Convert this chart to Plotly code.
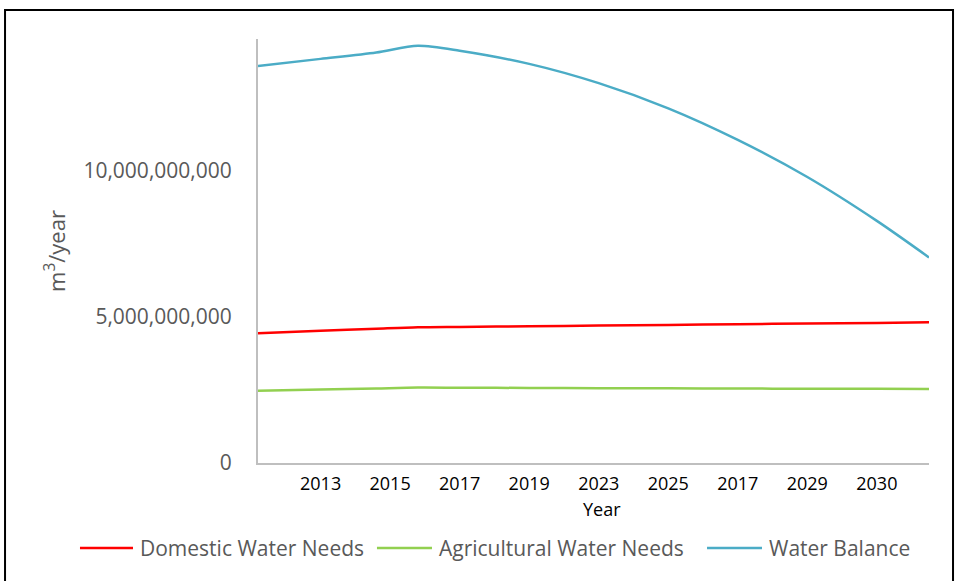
import plotly.graph_objects as go

# Year labels shown under the axis (as printed on the original report chart)
tick_labels = ["2013", "2015", "2017", "2019", "2023", "2025", "2017", "2029", "2030"]
tick_pos = list(range(1, len(tick_labels) + 1))

# Sample positions along the year axis (1 = first labelled year)
x_pts = [0.1, 1, 1.8, 2.4, 3, 4, 5, 6, 7, 8, 9, 9.75]

# Volumes in m3/year
domestic = [4.44e9, 4.52e9, 4.59e9, 4.64e9, 4.654e9, 4.677e9, 4.70e9,
            4.723e9, 4.746e9, 4.77e9, 4.79e9, 4.81e9]
agricultural = [2.47e9, 2.51e9, 2.55e9, 2.58e9, 2.575e9, 2.567e9, 2.56e9,
                2.553e9, 2.547e9, 2.54e9, 2.535e9, 2.53e9]
balance = [13.58e9, 13.82e9, 14.04e9, 14.27e9, 14.10e9, 13.65e9, 12.99e9,
           12.13e9, 11.05e9, 9.78e9, 8.28e9, 7.03e9]

series = [
    ("Domestic Water Needs", domestic, "#FF0000"),
    ("Agricultural Water Needs", agricultural, "#92D050"),
    ("Water Balance", balance, "#4BACC6"),
]

# Key row below the chart: (line start, line end, label start) in paper x
key_slots = [(-0.2653, -0.1863, -0.1788), (0.1773, 0.2593, 0.2668), (0.6692, 0.7511, 0.7586)]
key_y = -0.2005

fig = go.Figure()
shapes = [dict(
    type="rect", xref="paper", yref="paper",
    x0=-0.377, x1=1.0358, y0=-0.4, y1=1.0684,
    line=dict(color="black", width=2), fillcolor="rgba(0,0,0,0)", layer="below",
)]
annotations = []
for (name, vals, color), (lx0, lx1, tx) in zip(series, key_slots):
    fig.add_trace(go.Scatter(
        x=x_pts, y=vals, name=name, mode="lines", showlegend=False,
        line=dict(color=color, width=2.5, shape="spline", smoothing=0.8),
    ))
    shapes.append(dict(type="line", xref="paper", yref="paper",
                       x0=lx0, x1=lx1, y0=key_y, y1=key_y,
                       line=dict(color=color, width=2.5)))
    annotations.append(dict(text=name, xref="paper", yref="paper", x=tx, y=key_y,
                            xanchor="left", yanchor="middle", showarrow=False,
                            font=dict(size=21, color="#595959")))

# Axis caption for the year axis, sitting just under the tick labels
annotations.append(dict(text="Year", xref="paper", yref="paper", x=0.5127, y=-0.108,
                        xanchor="center", yanchor="middle", showarrow=False,
                        font=dict(size=18, color="#000000")))

fig.update_layout(
    width=958, height=581,
    margin=dict(l=258, r=29, t=39, b=118),
    paper_bgcolor="white", plot_bgcolor="white",
    font=dict(family="Open Sans", color="#595959"),
    showlegend=False,
    xaxis=dict(
        range=[0.1, 9.75], tickmode="array", tickvals=tick_pos, ticktext=tick_labels,
        showgrid=False, zeroline=False, showline=True, linecolor="#BFBFBF", linewidth=2,
        ticks="", tickfont=dict(size=18, color="#000000"), ticklabelstandoff=3,
    ),
    yaxis=dict(
        range=[0, 14.5e9], tickvals=[0, 5e9, 10e9], tickformat=",.0f",
        showgrid=False, zeroline=False, showline=True, linecolor="#BFBFBF", linewidth=2,
        ticks="", tickfont=dict(size=21, color="#595959"), ticklabelstandoff=20,
        title=dict(text="m<sup>3</sup>/year", font=dict(size=22, color="#595959"), standoff=12),
    ),
    shapes=shapes,
    annotations=annotations,
)

fig.write_html("out.html")
